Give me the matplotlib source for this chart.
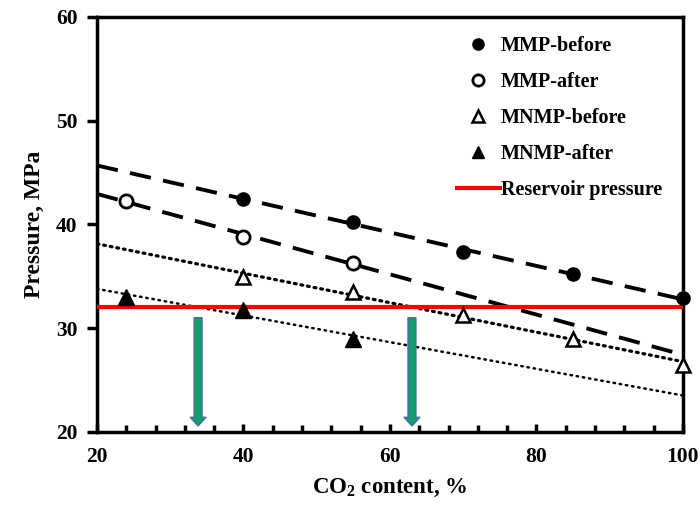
import numpy as np
import matplotlib
matplotlib.use("Agg")
import matplotlib.pyplot as plt
from matplotlib.ticker import MultipleLocator

plt.rcParams['font.family'] = ['Liberation Serif', 'DejaVu Serif']
plt.rcParams['font.weight'] = 'bold'
plt.rcParams['mathtext.fontset'] = 'custom'
plt.rcParams['mathtext.rm'] = 'Liberation Serif:bold'
plt.rcParams['mathtext.bf'] = 'Liberation Serif:bold'

# Data
mmp_before_x = [40, 55, 70, 85, 100]
mmp_before_y = [42.5, 40.2, 37.3, 35.2, 32.9]
mmp_after_x = [24, 40, 55]
mmp_after_y = [42.3, 38.8, 36.3]
mnmp_before_x = [40, 55, 70, 85, 100]
mnmp_before_y = [34.9, 33.5, 31.3, 29.0, 26.5]
mnmp_after_x = [24, 40, 55]
mnmp_after_y = [33.0, 31.8, 29.0]
reservoir_pressure = 32.0
arrow_x = [33.8, 63.0]
arrow_top = 31.0
arrow_bottom = 20.6

fig = plt.figure(figsize=(7.0, 5.07), dpi=100)
ax = fig.add_axes([0.1386, 0.148, 0.837, 0.8185])

xs = np.array([20, 100])

def trend(x, y):
    p = np.polyfit(x, y, 1)
    return np.polyval(p, xs)

# trend lines
ax.plot(xs, trend(mmp_before_x, mmp_before_y), color='black', lw=2.8,
        dashes=(5.5, 3.2), zorder=2)
ax.plot(xs, trend(mmp_after_x, mmp_after_y), color='black', lw=2.8,
        dashes=(5.5, 3.2), zorder=2)
ax.plot(xs, trend(mnmp_before_x, mnmp_before_y), color='black', lw=2.3,
        linestyle=(0, (0.6, 1.5)), dash_capstyle='round', zorder=2)
ax.plot(xs, trend(mnmp_after_x, mnmp_after_y), color='black', lw=1.8,
        linestyle=(0, (0.6, 1.9)), dash_capstyle='round', zorder=2)

# reservoir pressure
hres, = ax.plot(xs, [reservoir_pressure] * 2, color='#ff0000', lw=3.0, zorder=3,
                label='Reservoir pressure')

# markers
h1, = ax.plot(mmp_before_x, mmp_before_y, 'o', color='black', ms=9.5,
              linestyle='none', zorder=5, clip_on=False, label='MMP-before')
h2, = ax.plot(mmp_after_x, mmp_after_y, 'o', mfc='white', mec='black', mew=2,
              ms=9.5, linestyle='none', zorder=5, clip_on=False, label='MMP-after')
h3, = ax.plot(mnmp_before_x, mnmp_before_y, '^', mfc='white', mec='black', mew=1.8,
              ms=9.5, linestyle='none', zorder=5, clip_on=False, label='MNMP-before')
h4, = ax.plot(mnmp_after_x, mnmp_after_y, '^', color='black', ms=11,
              linestyle='none', zorder=5, clip_on=False, label='MNMP-after')

# arrows
for xa in arrow_x:
    ax.annotate('', xy=(xa, arrow_bottom), xytext=(xa, arrow_top),
                arrowprops=dict(arrowstyle='simple,head_width=1.1,head_length=0.6,tail_width=0.55',
                                fc='#12A06A', ec='#3F74A0', lw=1.2, shrinkA=0, shrinkB=0),
                zorder=4)

ax.set_xlim(20, 100)
ax.set_ylim(20, 60)
ax.xaxis.set_major_locator(MultipleLocator(20))
ax.xaxis.set_minor_locator(MultipleLocator(4))
ax.yaxis.set_major_locator(MultipleLocator(10))

for s in ax.spines.values():
    s.set_linewidth(2.5)

ax.tick_params(axis='x', which='major', direction='in', length=6, width=2.5,
               labelsize=15.5, pad=11)
ax.tick_params(axis='x', which='minor', direction='in', length=5, width=2.5)
ax.tick_params(axis='y', which='major', direction='out', length=7, width=2.5,
               labelsize=15.5, pad=7)
for lab in ax.get_xticklabels() + ax.get_yticklabels():
    lab.set_fontweight('bold')

ax.set_xlabel(r'CO$_2$ content, %', fontsize=16.5, fontweight='bold', labelpad=7)
ax.set_ylabel('Pressure, MPa', fontsize=17, fontweight='bold', labelpad=8)

handles = [h1, h2, h3, h4, hres]
leg = ax.legend(handles=handles, loc='upper left', bbox_to_anchor=(0.614, 0.955),
                frameon=False, prop={'weight': 'bold', 'size': 14.5},
                handlelength=2.15, handletextpad=0.05, labelspacing=0.8,
                borderpad=0, borderaxespad=0, markerscale=0.85)

fig.savefig('out.png', dpi=100)
